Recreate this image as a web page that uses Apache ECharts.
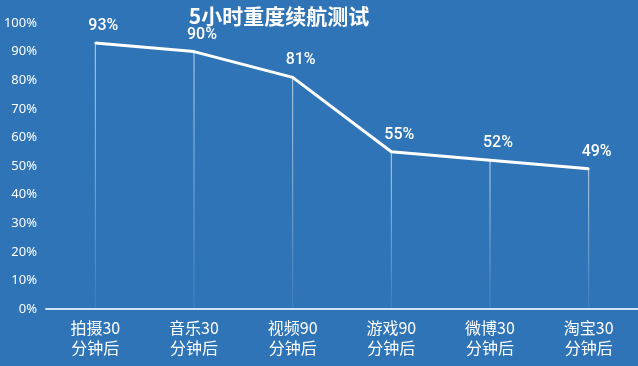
<!DOCTYPE html>
<html><head><meta charset="utf-8">
<script src="https://cdn.jsdelivr.net/npm/echarts@6/dist/echarts.min.js"></script>
<style>html,body{margin:0;padding:0;background:#2f74b6;}#c{width:638px;height:366px;}</style>
</head><body><div id="c"></div>
<script>
const categories = ['拍摄30\n分钟后', '音乐30\n分钟后', '视频90\n分钟后', '游戏90\n分钟后', '微博30\n分钟后', '淘宝30\n分钟后'];
const values = [93, 90, 81, 55, 52, 49];
const titleText = '5小时重度续航测试';

const chart = echarts.init(document.getElementById('c'));
chart.setOption({
  backgroundColor: '#2f74b6',
  animation: false,
  title: {
    text: titleText, left: 274, top: 1, textAlign: 'center',
    textStyle: { color: '#ffffff', fontSize: 21, fontWeight: 'bold', fontFamily: 'Noto Sans CJK SC' }
  },
  grid: { left: 46, right: -4, top: 23, bottom: 57 },
  xAxis: {
    type: 'category', data: categories, boundaryGap: true,
    axisLine: { lineStyle: { color: '#cfe3f5', width: 2 } },
    axisTick: { show: false },
    axisLabel: { color: '#ffffff', fontSize: 16, lineHeight: 20, margin: 9, fontFamily: 'Noto Sans CJK SC', interval: 0 },
    splitLine: { show: false }
  },
  yAxis: {
    type: 'value', min: 0, max: 100, interval: 10,
    axisLine: { show: false }, axisTick: { show: false },
    splitLine: { show: false },
    axisLabel: { color: '#ffffff', fontSize: 13, margin: 9, formatter: '{value}%', fontFamily: 'Noto Sans' }
  },
  series: [
    {
      type: 'bar', data: values, barWidth: 1, silent: true,
      itemStyle: { color: new echarts.graphic.LinearGradient(0, 0, 0, 1, [
        { offset: 0, color: 'rgba(255,255,255,0.7)' },
        { offset: 1, color: 'rgba(255,255,255,0.08)' }
      ]) }
    },
    {
      type: 'line', data: values, symbol: 'circle', symbolSize: 2, showSymbol: true,
      itemStyle: { color: '#ffffff' },
      lineStyle: { color: '#ffffff', width: 3 },
      label: {
        show: true, position: 'top', offset: [8, -3], formatter: '{c}%',
        color: '#ffffff', fontSize: 16, fontWeight: 500, fontFamily: 'Roboto'
      }
    }
  ]
});
</script></body></html>
